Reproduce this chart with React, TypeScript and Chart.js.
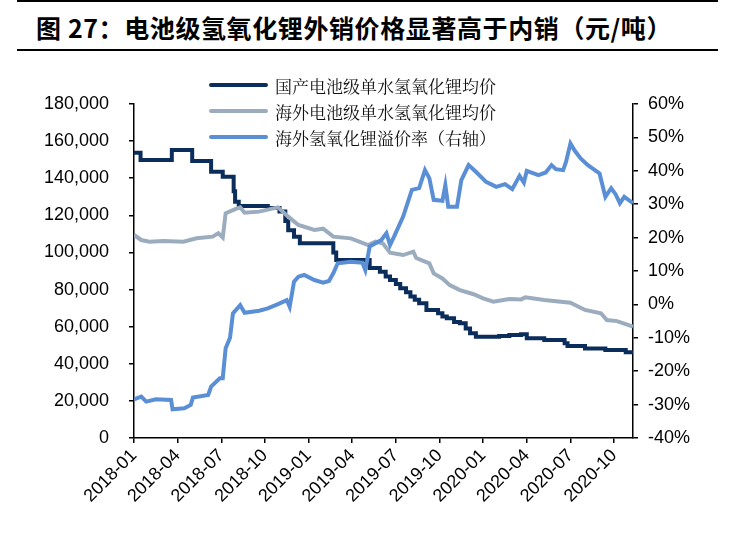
import React, { useEffect, useRef } from "react";
import { Chart, registerables } from "chart.js";

Chart.register(...registerables);

// x values are months counted from 2018-01
const tickMonths = [0, 3, 6, 9, 12, 15, 18, 21, 24, 27, 30, 33];
const tickLabels = [
  "2018-01", "2018-04", "2018-07", "2018-10",
  "2019-01", "2019-04", "2019-07", "2019-10",
  "2020-01", "2020-04", "2020-07", "2020-10",
];

const domesticX = [
  0, 0.45, 2.6, 4.0, 5.3, 6.1, 6.85, 6.95, 7.2, 9.2, 10.0, 10.4, 10.6, 11.0, 11.4,
  13.7, 13.9, 16.2, 16.9, 17.3, 17.6, 18.0, 18.3, 18.7, 19.0, 19.3, 19.6, 20.1,
  20.9, 21.2, 21.5, 22.0, 22.4, 22.8, 23.1, 23.5, 25.1, 25.8, 26.6, 27.0, 28.2,
  29.6, 29.8, 31.0, 32.4, 33.8, 34.3,
];
const domesticY = [
  153700, 149800, 155200, 149300, 143500, 140800, 133000, 127300, 125000, 124000,
  122000, 117000, 112000, 108500, 104900, 100000, 95900, 91600, 89600, 87000, 85100,
  83000, 80700, 78500, 76200, 74500, 72600, 69000, 67200, 65500, 64500, 62500, 61800,
  59000, 56400, 54600, 55000, 55500, 55900, 53700, 52800, 51000, 49600, 48300, 47400,
  46200, 46200,
];

const overseasX = [
  0, 0.5, 1.06, 2.0, 3.4, 4.3, 5.4, 5.8, 6.1, 6.3, 7.0, 7.3, 7.6, 8.6, 9.9, 10.6,
  11.3, 12.4, 13.0, 13.7, 14.9, 16.1, 16.6, 17.1, 17.6, 18.5, 19.2, 19.4, 20.3, 20.6,
  21.2, 21.7, 22.4, 23.3, 24.0, 24.7, 25.8, 26.6, 26.9, 28.2, 30.0, 31.0, 32.1, 32.5,
  33.2, 34.3,
];
const overseasY = [
  109400, 106700, 105800, 106200, 105800, 107600, 108500, 110300, 108000, 121100,
  123500, 124300, 121400, 122000, 124300, 119300, 114800, 112100, 112800, 108500,
  107600, 104000, 105800, 104900, 99900, 98600, 100400, 97000, 94100, 88700, 86000,
  82400, 79700, 77600, 75300, 73500, 74900, 74700, 75800, 74400, 72900, 69000, 67200,
  63600, 63000, 60000,
];

const premiumX = [
  0, 0.5, 0.84, 1.5, 2.55, 2.65, 3.45, 3.9, 4.05, 5.1, 5.3, 5.9, 6.1, 6.3, 6.6, 6.8,
  7.3, 7.6, 8.6, 9.2, 9.9, 10.5, 10.7, 11.0, 11.3, 11.7, 12.4, 13.0, 13.4, 13.7, 14.0,
  14.9, 15.7, 15.9, 16.2, 17.0, 17.35, 17.6, 17.9, 18.5, 19.1, 19.6, 20.0, 20.3, 20.6,
  21.2, 21.4, 21.6, 22.2, 22.5, 23.0, 23.5, 24.2, 24.9, 25.5, 26.0, 26.5, 26.8, 27.0,
  27.8, 28.3, 28.7, 29.0, 29.5, 29.7, 30.0, 30.3, 30.7, 31.2, 32.0, 32.4, 32.8, 33.1,
  33.4, 33.7, 34.3,
];
const premiumY = [
  -28.4, -27.6, -29.1, -28.4, -28.6, -31.4, -31.1, -30.1, -27.9, -27.1, -24.6, -22.1,
  -22.1, -13.1, -10, -2.7, -0.2, -2.5, -1.9, -1.2, 0.1, 1.3, -0.7, 6.8, 8.3, 8.8, 7.3,
  6.5, 7.0, 9.3, 12.3, 12.8, 12.5, 10.3, 17.3, 19.3, 21.3, 17.8, 20.5, 26.3, 34.3, 34.8,
  40.2, 37.8, 31.3, 31.0, 35.7, 29.2, 29.2, 37.2, 41.7, 39.7, 36.7, 35.2, 36.0, 34.5,
  38.5, 36.5, 40.0, 38.7, 39.5, 41.7, 40.5, 40.2, 42.7, 48.2, 46.0, 43.7, 41.7, 39.2,
  32.2, 34.8, 33.0, 30.3, 32.2, 30.3,
];

const seriesNames = [
  "国产电池级单水氢氧化锂均价",
  "海外电池级单水氢氧化锂均价",
  "海外氢氧化锂溢价率（右轴）",
];
const seriesColors = ["#0b2d5b", "#9bacbe", "#5a8fd6"];

const W = 736;
const H = 548;
const AREA_LEFT = 134;
const AREA_RIGHT = 633;
const AREA_TOP = 104;
const AREA_BOTTOM = 438;

const tickFont = { family: "'Liberation Sans', Arial, sans-serif", size: 18 };

export default function App() {
  const canvasRef = useRef<HTMLCanvasElement | null>(null);

  useEffect(() => {
    const canvas = canvasRef.current;
    if (!canvas) return;
    const toPts = (xs: number[], ys: number[]) => xs.map((x, i) => ({ x, y: ys[i] }));
    const axisGrid = {
      display: true,
      drawOnChartArea: false,
      drawTicks: true,
      tickLength: 5,
      color: "#000",
      lineWidth: 1.5,
    };
    const axisBorder = { display: true, color: "#000", width: 1.5 };
    const chart = new Chart(canvas, {
      type: "line",
      data: {
        datasets: [
          {
            label: seriesNames[0],
            data: toPts(domesticX, domesticY),
            borderColor: seriesColors[0],
            backgroundColor: seriesColors[0],
            borderWidth: 4,
            pointRadius: 0,
            stepped: true,
            yAxisID: "y",
            order: 3,
          },
          {
            label: seriesNames[1],
            data: toPts(overseasX, overseasY),
            borderColor: seriesColors[1],
            backgroundColor: seriesColors[1],
            borderWidth: 4,
            pointRadius: 0,
            yAxisID: "y",
            order: 2,
          },
          {
            label: seriesNames[2],
            data: toPts(premiumX, premiumY),
            borderColor: seriesColors[2],
            backgroundColor: seriesColors[2],
            borderWidth: 4,
            pointRadius: 0,
            yAxisID: "y1",
            order: 1,
          },
        ],
      },
      options: {
        animation: false,
        responsive: false,
        maintainAspectRatio: false,
        layout: { padding: { top: AREA_TOP, left: 0, right: 0, bottom: 0 } },
        plugins: { legend: { display: false }, tooltip: { enabled: false } },
        scales: {
          x: {
            type: "linear",
            min: 0,
            max: 34.3,
            afterBuildTicks: (scale: any) => {
              scale.ticks = tickMonths.map((v) => ({ value: v }));
            },
            afterFit: (scale: any) => {
              scale.height = H - AREA_BOTTOM;
            },
            ticks: {
              autoSkip: false,
              minRotation: 45,
              maxRotation: 45,
              color: "#000",
              font: tickFont,
              padding: 2,
              callback: (value: any) => {
                const i = tickMonths.indexOf(Number(value));
                return i >= 0 ? tickLabels[i] : "";
              },
            },
            grid: axisGrid,
            border: axisBorder,
          },
          y: {
            position: "left",
            min: 0,
            max: 180000,
            afterFit: (scale: any) => {
              scale.width = AREA_LEFT;
            },
            ticks: {
              stepSize: 20000,
              color: "#000",
              font: tickFont,
              padding: 20,
              callback: (value: any) => Number(value).toLocaleString("en-US"),
            },
            grid: axisGrid,
            border: axisBorder,
          },
          y1: {
            position: "right",
            min: -40,
            max: 60,
            afterFit: (scale: any) => {
              scale.width = W - AREA_RIGHT;
            },
            ticks: {
              stepSize: 10,
              color: "#000",
              font: tickFont,
              padding: 10,
              callback: (value: any) => `${value}%`,
            },
            grid: axisGrid,
            border: axisBorder,
          },
        },
      },
    });
    return () => chart.destroy();
  }, []);

  return (
    <div
      style={{
        position: "fixed",
        left: 0,
        top: 0,
        width: W,
        height: H,
        background: "#fff",
        overflow: "hidden",
      }}
    >
      <div
        style={{
          position: "absolute",
          left: 17,
          top: 0,
          width: 701,
          height: 1.5,
          background: "#000",
        }}
      />
      <div
        style={{
          position: "absolute",
          left: 36,
          top: 10,
          fontFamily: "'Noto Sans CJK SC', sans-serif",
          fontWeight: 700,
          fontSize: 25,
          letterSpacing: 0.6,
          lineHeight: "34px",
          color: "#000",
          whiteSpace: "nowrap",
        }}
      >
        图 27：电池级氢氧化锂外销价格显著高于内销（元/吨）
      </div>
      <div
        style={{
          position: "absolute",
          left: 17,
          top: 49,
          width: 701,
          height: 1.5,
          background: "#000",
        }}
      />
      <canvas
        ref={canvasRef}
        width={W}
        height={H}
        style={{ position: "absolute", left: 0, top: 0, width: W, height: H }}
      />
      <div style={{ position: "absolute", left: 209, top: 72 }}>
        {seriesNames.map((name, i) => (
          <div
            key={name}
            style={{ display: "flex", alignItems: "center", height: 26 }}
          >
            <div
              style={{
                width: 59,
                height: 4.5,
                borderRadius: 2,
                background: seriesColors[i],
                marginRight: 7,
              }}
            />
            <span
              style={{
                fontFamily: "'Noto Serif CJK SC', 'Noto Sans CJK SC', sans-serif",
                fontSize: 17,
                color: "#111",
                whiteSpace: "nowrap",
              }}
            >
              {name}
            </span>
          </div>
        ))}
      </div>
    </div>
  );
}
